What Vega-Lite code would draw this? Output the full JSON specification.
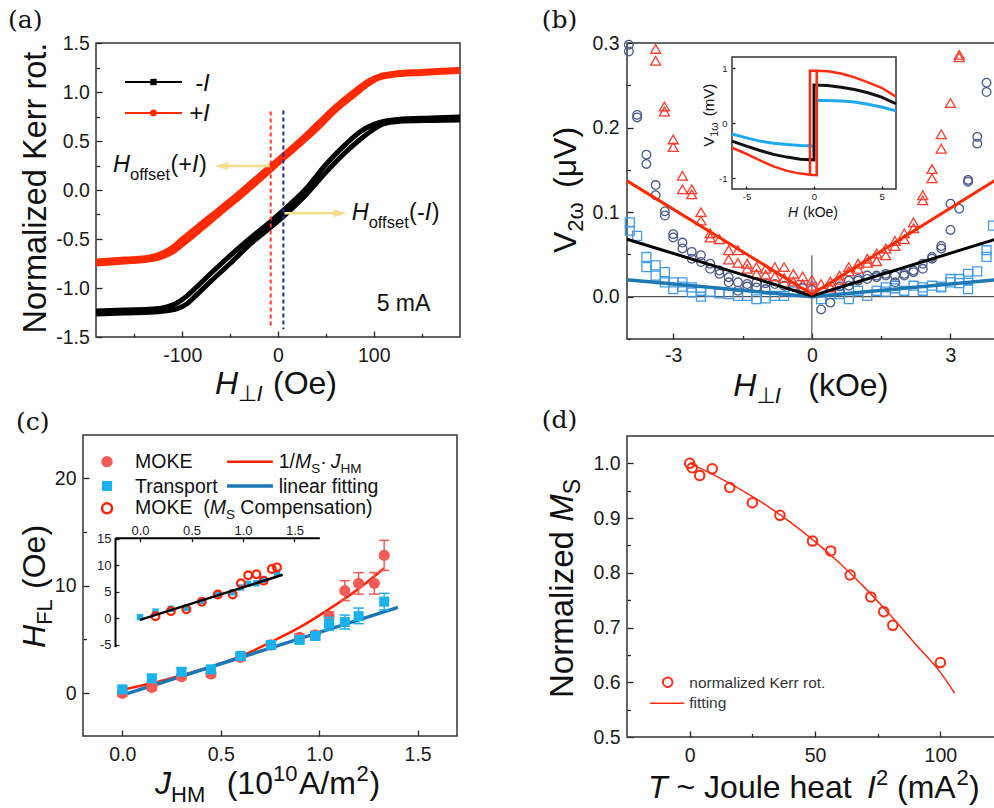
{
"$schema":"https://vega.github.io/schema/vega-lite/v6.json",
"width":994,"height":808,"autosize":{"type":"none"},"padding":0,"background":"white",
"data":{"values":[{}]},
"config":{"view":{"stroke":null},"font":"Liberation Sans",
 "axis":{"grid":false,"domain":false,"labelFont":"Liberation Sans","labelFontSize":19.5,"labelColor":"#1a1a1a","tickColor":"#222222","tickWidth":1.3,"labelFlush":false,"labelOverlap":false,"zindex":1,"domainColor":"#111111"},
 "text":{"color":"#111111"}},
"datasets":{
 "aBlack":[
  {"b":"A","x":-190,"y":-1.235},{"b":"A","x":-160,"y":-1.225},{"b":"A","x":-130,"y":-1.215},{"b":"A","x":-115,"y":-1.19},{"b":"A","x":-105,"y":-1.15},{"b":"A","x":-95,"y":-1.08},{"b":"A","x":-85,"y":-0.99},{"b":"A","x":-70,"y":-0.85},{"b":"A","x":-50,"y":-0.67},{"b":"A","x":-30,"y":-0.5},{"b":"A","x":-10,"y":-0.34},{"b":"A","x":10,"y":-0.17},{"b":"A","x":30,"y":0.02},{"b":"A","x":50,"y":0.26},{"b":"A","x":70,"y":0.46},{"b":"A","x":85,"y":0.59},{"b":"A","x":100,"y":0.67},{"b":"A","x":110,"y":0.7},{"b":"A","x":125,"y":0.72},{"b":"A","x":160,"y":0.735},{"b":"A","x":190,"y":0.745},
  {"b":"B","x":-190,"y":-1.265},{"b":"B","x":-160,"y":-1.255},{"b":"B","x":-130,"y":-1.245},{"b":"B","x":-115,"y":-1.23},{"b":"B","x":-105,"y":-1.21},{"b":"B","x":-95,"y":-1.16},{"b":"B","x":-85,"y":-1.07},{"b":"B","x":-70,"y":-0.93},{"b":"B","x":-50,"y":-0.75},{"b":"B","x":-30,"y":-0.56},{"b":"B","x":-10,"y":-0.4},{"b":"B","x":10,"y":-0.23},{"b":"B","x":30,"y":-0.04},{"b":"B","x":50,"y":0.18},{"b":"B","x":70,"y":0.38},{"b":"B","x":85,"y":0.51},{"b":"B","x":100,"y":0.62},{"b":"B","x":110,"y":0.675},{"b":"B","x":125,"y":0.7},{"b":"B","x":160,"y":0.71},{"b":"B","x":190,"y":0.715}],
 "aRed":[
  {"b":"A","x":-190,"y":-0.725},{"b":"A","x":-160,"y":-0.705},{"b":"A","x":-135,"y":-0.685},{"b":"A","x":-120,"y":-0.64},{"b":"A","x":-110,"y":-0.585},{"b":"A","x":-100,"y":-0.5},{"b":"A","x":-80,"y":-0.34},{"b":"A","x":-60,"y":-0.185},{"b":"A","x":-40,"y":-0.025},{"b":"A","x":-20,"y":0.145},{"b":"A","x":0,"y":0.31},{"b":"A","x":20,"y":0.48},{"b":"A","x":40,"y":0.665},{"b":"A","x":60,"y":0.85},{"b":"A","x":80,"y":1.01},{"b":"A","x":95,"y":1.115},{"b":"A","x":105,"y":1.16},{"b":"A","x":120,"y":1.19},{"b":"A","x":150,"y":1.21},{"b":"A","x":190,"y":1.23},
  {"b":"B","x":-190,"y":-0.755},{"b":"B","x":-160,"y":-0.735},{"b":"B","x":-135,"y":-0.715},{"b":"B","x":-120,"y":-0.68},{"b":"B","x":-110,"y":-0.635},{"b":"B","x":-100,"y":-0.56},{"b":"B","x":-80,"y":-0.4},{"b":"B","x":-60,"y":-0.235},{"b":"B","x":-40,"y":-0.075},{"b":"B","x":-20,"y":0.095},{"b":"B","x":0,"y":0.27},{"b":"B","x":20,"y":0.44},{"b":"B","x":40,"y":0.615},{"b":"B","x":60,"y":0.81},{"b":"B","x":80,"y":0.97},{"b":"B","x":95,"y":1.085},{"b":"B","x":105,"y":1.14},{"b":"B","x":120,"y":1.17},{"b":"B","x":150,"y":1.19},{"b":"B","x":190,"y":1.21}],
 "bTri":[{"x":-3.38,"y":0.293},{"x":-3.38,"y":0.279},{"x":-3.19,"y":0.225},{"x":-3.19,"y":0.219},{"x":-3.0,"y":0.186},{"x":-3.0,"y":0.177},{"x":-2.8,"y":0.143},{"x":-2.8,"y":0.127},{"x":-2.6,"y":0.127},{"x":-2.6,"y":0.121},{"x":-2.4,"y":0.1},{"x":-2.4,"y":0.09},{"x":-2.2,"y":0.075},{"x":-2.2,"y":0.07},{"x":-2.0,"y":0.068},{"x":-1.8,"y":0.055},{"x":-1.8,"y":0.044},{"x":-1.6,"y":0.055},{"x":-1.6,"y":0.04},{"x":-1.4,"y":0.039},{"x":-1.4,"y":0.033},{"x":-1.2,"y":0.035},{"x":-1.2,"y":0.027},{"x":-1.0,"y":0.033},{"x":-1.0,"y":0.026},{"x":-0.8,"y":0.035},{"x":-0.8,"y":0.024},{"x":-0.6,"y":0.035},{"x":-0.6,"y":0.022},{"x":-0.4,"y":0.027},{"x":-0.4,"y":0.018},{"x":-0.2,"y":0.024},{"x":-0.2,"y":0.015},{"x":0.0,"y":0.02},{"x":0.0,"y":0.013},{"x":0.2,"y":0.015},{"x":0.4,"y":0.011},{"x":0.4,"y":0.018},{"x":0.6,"y":0.025},{"x":0.6,"y":0.02},{"x":0.8,"y":0.035},{"x":0.8,"y":0.03},{"x":1.0,"y":0.039},{"x":1.0,"y":0.033},{"x":1.2,"y":0.045},{"x":1.2,"y":0.04},{"x":1.4,"y":0.051},{"x":1.4,"y":0.042},{"x":1.6,"y":0.057},{"x":1.6,"y":0.049},{"x":1.8,"y":0.066},{"x":1.8,"y":0.06},{"x":2.0,"y":0.075},{"x":2.0,"y":0.068},{"x":2.2,"y":0.088},{"x":2.2,"y":0.081},{"x":2.4,"y":0.12},{"x":2.4,"y":0.114},{"x":2.6,"y":0.151},{"x":2.6,"y":0.14},{"x":2.8,"y":0.192},{"x":2.8,"y":0.175},{"x":3.0,"y":0.229},{"x":3.19,"y":0.286},{"x":3.19,"y":0.283}],
 "bCirc":[{"x":-3.96,"y":0.298},{"x":-3.96,"y":0.29},{"x":-3.78,"y":0.215},{"x":-3.78,"y":0.212},{"x":-3.58,"y":0.168},{"x":-3.58,"y":0.157},{"x":-3.38,"y":0.132},{"x":-3.38,"y":0.12},{"x":-3.18,"y":0.101},{"x":-3.18,"y":0.096},{"x":-3.0,"y":0.074},{"x":-3.0,"y":0.07},{"x":-2.8,"y":0.064},{"x":-2.8,"y":0.057},{"x":-2.6,"y":0.053},{"x":-2.6,"y":0.045},{"x":-2.4,"y":0.049},{"x":-2.4,"y":0.041},{"x":-2.2,"y":0.039},{"x":-2.2,"y":0.033},{"x":-2.0,"y":0.031},{"x":-2.0,"y":0.027},{"x":-1.8,"y":0.023},{"x":-1.8,"y":0.017},{"x":-1.6,"y":0.017},{"x":-1.6,"y":0.007},{"x":-1.4,"y":0.015},{"x":-1.4,"y":0.012},{"x":-1.2,"y":0.017},{"x":-1.2,"y":0.011},{"x":-1.0,"y":0.016},{"x":-1.0,"y":0.009},{"x":-0.8,"y":0.015},{"x":-0.6,"y":0.013},{"x":-0.4,"y":0.012},{"x":-0.2,"y":0.011},{"x":0.0,"y":0.008},{"x":0.2,"y":-0.015},{"x":0.4,"y":-0.007},{"x":0.6,"y":0.007},{"x":0.6,"y":0.012},{"x":0.8,"y":0.019},{"x":0.8,"y":0.013},{"x":1.0,"y":0.021},{"x":1.0,"y":0.019},{"x":1.2,"y":0.025},{"x":1.2,"y":0.021},{"x":1.4,"y":0.025},{"x":1.4,"y":0.023},{"x":1.6,"y":0.027},{"x":1.6,"y":0.025},{"x":1.8,"y":0.025},{"x":1.8,"y":0.017},{"x":2.0,"y":0.027},{"x":2.0,"y":0.025},{"x":2.2,"y":0.031},{"x":2.2,"y":0.029},{"x":2.4,"y":0.039},{"x":2.4,"y":0.033},{"x":2.6,"y":0.047},{"x":2.6,"y":0.045},{"x":2.8,"y":0.06},{"x":2.8,"y":0.057},{"x":3.0,"y":0.11},{"x":3.0,"y":0.079},{"x":3.19,"y":0.104},{"x":3.38,"y":0.138},{"x":3.38,"y":0.136},{"x":3.58,"y":0.189},{"x":3.58,"y":0.181},{"x":3.78,"y":0.253},{"x":3.78,"y":0.242}],
 "bSq":[{"x":-3.94,"y":0.088},{"x":-3.94,"y":0.078},{"x":-3.78,"y":0.072},{"x":-3.58,"y":0.047},{"x":-3.58,"y":0.035},{"x":-3.38,"y":0.037},{"x":-3.38,"y":0.025},{"x":-3.18,"y":0.029},{"x":-3.18,"y":0.017},{"x":-3.0,"y":0.017},{"x":-3.0,"y":0.009},{"x":-2.8,"y":0.017},{"x":-2.8,"y":0.012},{"x":-2.6,"y":0.011},{"x":-2.6,"y":0.005},{"x":-2.4,"y":0.007},{"x":-2.4,"y":0.0},{"x":-2.2,"y":0.006},{"x":-2.0,"y":0.004},{"x":-1.8,"y":0.003},{"x":-1.6,"y":0.001},{"x":-1.4,"y":0.001},{"x":-1.2,"y":-0.003},{"x":-1.0,"y":-0.002},{"x":-0.8,"y":0.001},{"x":-0.6,"y":0.001},{"x":-0.4,"y":0.006},{"x":-0.2,"y":0.009},{"x":0.0,"y":0.012},{"x":0.2,"y":-0.003},{"x":0.4,"y":0.003},{"x":0.6,"y":0.003},{"x":0.8,"y":-0.003},{"x":0.8,"y":0.008},{"x":1.0,"y":0.007},{"x":1.2,"y":0.001},{"x":1.4,"y":0.007},{"x":1.6,"y":0.011},{"x":1.6,"y":0.006},{"x":1.8,"y":0.01},{"x":1.8,"y":0.013},{"x":2.0,"y":0.007},{"x":2.2,"y":0.013},{"x":2.4,"y":0.007},{"x":2.4,"y":0.011},{"x":2.6,"y":0.013},{"x":2.8,"y":0.012},{"x":2.8,"y":0.011},{"x":3.0,"y":0.017},{"x":3.0,"y":0.021},{"x":3.19,"y":0.016},{"x":3.19,"y":0.021},{"x":3.38,"y":0.027},{"x":3.38,"y":0.019},{"x":3.38,"y":0.009},{"x":3.58,"y":0.03},{"x":3.78,"y":0.055},{"x":3.78,"y":0.047},{"x":3.92,"y":0.084}],
 "bFitR":[{"x":-4,"y":0.137},{"x":0,"y":0.003},{"x":3.98,"y":0.138}],
 "bFitK":[{"x":-4,"y":0.068},{"x":0,"y":0.001},{"x":3.98,"y":0.068}],
 "bFitB":[{"x":-4,"y":0.02},{"x":0,"y":0.0},{"x":3.98,"y":0.02}],
 "bIns":[
  {"s":"I1","seg":1,"o":1,"x":-6.07,"y":-0.45},{"s":"I1","seg":1,"o":2,"x":-5,"y":-0.56},{"s":"I1","seg":1,"o":3,"x":-4,"y":-0.68},{"s":"I1","seg":1,"o":4,"x":-3,"y":-0.79},{"s":"I1","seg":1,"o":5,"x":-2,"y":-0.87},{"s":"I1","seg":1,"o":6,"x":-1,"y":-0.92},{"s":"I1","seg":1,"o":7,"x":-0.3,"y":-0.94},{"s":"I1","seg":1,"o":8,"x":0.2,"y":-0.95},{"s":"I1","seg":1,"o":9,"x":0.2,"y":0.95},{"s":"I1","seg":1,"o":10,"x":1,"y":0.94},{"s":"I1","seg":1,"o":11,"x":2,"y":0.9},{"s":"I1","seg":1,"o":12,"x":3,"y":0.83},{"s":"I1","seg":1,"o":13,"x":4,"y":0.74},{"s":"I1","seg":1,"o":14,"x":5,"y":0.64},{"s":"I1","seg":1,"o":15,"x":6.07,"y":0.48},
  {"s":"I1","seg":2,"o":1,"x":-0.3,"y":-0.94},{"s":"I1","seg":2,"o":2,"x":-0.3,"y":0.95},{"s":"I1","seg":2,"o":3,"x":0.2,"y":0.95},
  {"s":"I2","seg":1,"o":1,"x":-6.07,"y":-0.33},{"s":"I2","seg":1,"o":2,"x":-5,"y":-0.42},{"s":"I2","seg":1,"o":3,"x":-4,"y":-0.5},{"s":"I2","seg":1,"o":4,"x":-3,"y":-0.57},{"s":"I2","seg":1,"o":5,"x":-2,"y":-0.62},{"s":"I2","seg":1,"o":6,"x":-1,"y":-0.66},{"s":"I2","seg":1,"o":7,"x":0,"y":-0.67},{"s":"I2","seg":1,"o":8,"x":0,"y":0.69},{"s":"I2","seg":1,"o":9,"x":1,"y":0.68},{"s":"I2","seg":1,"o":10,"x":2,"y":0.65},{"s":"I2","seg":1,"o":11,"x":3,"y":0.61},{"s":"I2","seg":1,"o":12,"x":4,"y":0.55},{"s":"I2","seg":1,"o":13,"x":5,"y":0.47},{"s":"I2","seg":1,"o":14,"x":6.07,"y":0.35},
  {"s":"I3","seg":1,"o":1,"x":-6.07,"y":-0.2},{"s":"I3","seg":1,"o":2,"x":-5,"y":-0.27},{"s":"I3","seg":1,"o":3,"x":-4,"y":-0.33},{"s":"I3","seg":1,"o":4,"x":-3,"y":-0.37},{"s":"I3","seg":1,"o":5,"x":-2,"y":-0.39},{"s":"I3","seg":1,"o":6,"x":-1,"y":-0.41},{"s":"I3","seg":1,"o":7,"x":-0.1,"y":-0.42},
  {"s":"I3","seg":2,"o":1,"x":0.2,"y":0.41},{"s":"I3","seg":2,"o":2,"x":1,"y":0.41},{"s":"I3","seg":2,"o":3,"x":2,"y":0.4},{"s":"I3","seg":2,"o":4,"x":3,"y":0.38},{"s":"I3","seg":2,"o":5,"x":4,"y":0.34},{"s":"I3","seg":2,"o":6,"x":5,"y":0.29},{"s":"I3","seg":2,"o":7,"x":6.07,"y":0.22}],
 "cMoke":[{"x":0,"y":-0.03,"lo":-0.3,"hi":0.25},{"x":0.15,"y":0.53,"lo":0.25,"hi":0.8},{"x":0.3,"y":1.52,"lo":1.25,"hi":1.8},{"x":0.45,"y":1.77,"lo":1.5,"hi":2.05},{"x":0.6,"y":3.32,"lo":3.0,"hi":3.65},{"x":0.755,"y":4.47,"lo":4.15,"hi":4.8},{"x":0.9,"y":5.18,"lo":4.85,"hi":5.5},{"x":0.98,"y":5.4,"lo":5.05,"hi":5.75},{"x":1.05,"y":7.16,"lo":6.75,"hi":7.55},{"x":1.13,"y":9.52,"lo":8.6,"hi":10.45},{"x":1.2,"y":10.2,"lo":9.2,"hi":11.2},{"x":1.28,"y":10.2,"lo":9.2,"hi":11.2},{"x":1.33,"y":12.8,"lo":11.4,"hi":14.2}],
 "cTrans":[{"x":0,"y":0.34,"lo":0.05,"hi":0.6},{"x":0.15,"y":1.37,"lo":1.05,"hi":1.7},{"x":0.3,"y":1.98,"lo":1.7,"hi":2.3},{"x":0.45,"y":2.2,"lo":1.9,"hi":2.5},{"x":0.6,"y":3.44,"lo":3.15,"hi":3.75},{"x":0.755,"y":4.47,"lo":4.15,"hi":4.8},{"x":0.9,"y":4.93,"lo":4.6,"hi":5.25},{"x":0.98,"y":5.3,"lo":4.95,"hi":5.65},{"x":1.05,"y":6.45,"lo":5.85,"hi":7.05},{"x":1.13,"y":6.6,"lo":5.95,"hi":7.25},{"x":1.2,"y":7.15,"lo":6.45,"hi":7.9},{"x":1.33,"y":8.5,"lo":7.72,"hi":9.27}],
 "cFitR":[{"x":0,"y":0.3},{"x":0.15,"y":0.9},{"x":0.3,"y":1.65},{"x":0.45,"y":2.45},{"x":0.6,"y":3.4},{"x":0.75,"y":4.7},{"x":0.9,"y":6.1},{"x":1.05,"y":7.8},{"x":1.2,"y":9.7},{"x":1.33,"y":11.6}],
 "cFitB":[{"x":0,"y":-0.2},{"x":1.4,"y":7.96}],
 "cInsR":[{"x":0.15,"y":0.4},{"x":0.3,"y":1.35},{"x":0.45,"y":1.7},{"x":0.6,"y":3.1},{"x":0.755,"y":4.5},{"x":0.9,"y":4.5},{"x":0.98,"y":6.6},{"x":1.05,"y":8.1},{"x":1.13,"y":8.3},{"x":1.2,"y":7.1},{"x":1.28,"y":9.3},{"x":1.33,"y":9.6}],
 "cInsB":[{"x":0,"y":0.2},{"x":0.15,"y":1.26},{"x":0.3,"y":1.8},{"x":0.45,"y":2.0},{"x":0.6,"y":3.3},{"x":0.755,"y":4.5},{"x":0.9,"y":4.9},{"x":0.98,"y":5.8},{"x":1.05,"y":6.5},{"x":1.13,"y":6.6},{"x":1.2,"y":7.3},{"x":1.33,"y":8.6}],
 "cInsL":[{"x":0,"y":-0.3},{"x":1.385,"y":8.2}],
 "dPts":[{"x":0,"y":1.0},{"x":1,"y":0.992},{"x":4,"y":0.978},{"x":9,"y":0.99},{"x":16,"y":0.956},{"x":25,"y":0.928},{"x":36,"y":0.905},{"x":49,"y":0.858},{"x":56.25,"y":0.84},{"x":64,"y":0.796},{"x":72.25,"y":0.756},{"x":77.4,"y":0.729},{"x":81,"y":0.704},{"x":100,"y":0.636}],
 "dFit":[{"x":0,"y":1.0},{"x":10,"y":0.978},{"x":20,"y":0.953},{"x":30,"y":0.925},{"x":40,"y":0.893},{"x":50,"y":0.857},{"x":60,"y":0.817},{"x":70,"y":0.772},{"x":80,"y":0.723},{"x":90,"y":0.67},{"x":100,"y":0.618},{"x":105.7,"y":0.58}]
},
"layer":[
 {"layer":[
  {"mark":{"type":"rect","filled":false,"stroke":"#333333","strokeWidth":1.5},
   "encoding":{
    "x":{"datum":-190,"type":"quantitative","scale":{"domain":[-190,190],"range":[96,460],"nice":false,"zero":false},
     "axis":{"orient":"bottom","offset":-471,"title":null,"values":[-150,-100,-50,0,50,100,150],"format":"d","labelExpr":"datum.value % 100 == 0 ? replace(datum.label, '\u2212', '-') : ''","tickSize":{"condition":{"test":"datum.value % 100 == 0","value":-6},"value":-3.5},"labelPadding":15.6}},
    "x2":{"datum":190},
    "y":{"datum":-1.5,"type":"quantitative","scale":{"domain":[-1.5,1.5],"range":[337,43],"nice":false,"zero":false},
     "axis":{"orient":"left","offset":-96,"title":null,"values":[-1.5,-1.25,-1,-0.75,-0.5,-0.25,0,0.25,0.5,0.75,1,1.25,1.5],"format":".1f","labelExpr":"abs(datum.value*2 - round(datum.value*2)) < 0.001 ? replace(datum.label, '\u2212', '-') : ''","tickSize":{"condition":{"test":"abs(datum.value*2 - round(datum.value*2)) < 0.001","value":-6},"value":-3.5},"labelPadding":12.7}},
    "y2":{"datum":1.5}}},
  {"data":{"name":"aBlack"},"mark":{"type":"line","color":"#000000","strokeWidth":5,"interpolate":"monotone"},"encoding":{"x":{"field":"x","type":"quantitative"},"y":{"field":"y","type":"quantitative"},"detail":{"field":"b","type":"nominal"}}},
  {"data":{"name":"aRed"},"mark":{"type":"line","color":"#ff2a00","strokeWidth":5,"interpolate":"monotone"},"encoding":{"x":{"field":"x","type":"quantitative"},"y":{"field":"y","type":"quantitative"},"detail":{"field":"b","type":"nominal"}}},
  {"mark":{"type":"rule","color":"#ff3b30","strokeWidth":2,"strokeDash":[4,3]},"encoding":{"x":{"datum":-7.6,"type":"quantitative"},"y":{"datum":0.8,"type":"quantitative"},"y2":{"datum":-1.4}}},
  {"mark":{"type":"rule","color":"#1e2b9e","strokeWidth":2,"strokeDash":[4,3]},"encoding":{"x":{"datum":5.6,"type":"quantitative"},"y":{"datum":0.81,"type":"quantitative"},"y2":{"datum":-1.42}}},
  {"mark":{"type":"rule","color":"#f6df8c","strokeWidth":2.5},"encoding":{"x":{"datum":-8.4,"type":"quantitative"},"x2":{"datum":-58},"y":{"datum":0.245,"type":"quantitative"}}},
  {"mark":{"type":"point","shape":"M-1,0L1,-0.6L1,0.6Z","filled":true,"color":"#f6df8c","size":169,"opacity":1},"encoding":{"x":{"datum":-59,"type":"quantitative"},"y":{"datum":0.245,"type":"quantitative"}}},
  {"mark":{"type":"rule","color":"#f6df8c","strokeWidth":2.5},"encoding":{"x":{"datum":6.6,"type":"quantitative"},"x2":{"datum":59},"y":{"datum":-0.238,"type":"quantitative"}}},
  {"mark":{"type":"point","shape":"M1,0L-1,-0.6L-1,0.6Z","filled":true,"color":"#f6df8c","size":169,"opacity":1},"encoding":{"x":{"datum":64.9,"type":"quantitative"},"y":{"datum":-0.238,"type":"quantitative"}}},
  {"mark":{"type":"rule","color":"#000000","strokeWidth":2},"encoding":{"x":{"datum":-159.7,"type":"quantitative"},"x2":{"datum":-100.2},"y":{"datum":1.102,"type":"quantitative"}}},
  {"mark":{"type":"point","shape":"square","filled":true,"color":"#000000","size":40,"opacity":1},"encoding":{"x":{"datum":-130,"type":"quantitative"},"y":{"datum":1.102,"type":"quantitative"}}},
  {"mark":{"type":"rule","color":"#ff2a00","strokeWidth":2},"encoding":{"x":{"datum":-159.7,"type":"quantitative"},"x2":{"datum":-100.2},"y":{"datum":0.786,"type":"quantitative"}}},
  {"mark":{"type":"point","shape":"circle","filled":true,"color":"#ff2a00","size":45,"opacity":1},"encoding":{"x":{"datum":-130,"type":"quantitative"},"y":{"datum":0.786,"type":"quantitative"}}},
  {"mark":{"type":"text","text":"-I","fontSize":24,"fontStyle":"italic","align":"left","baseline":"alphabetic"},"encoding":{"x":{"datum":-86.6,"type":"quantitative"},"y":{"datum":1.015,"type":"quantitative"}}},
  {"mark":{"type":"text","text":"+I","fontSize":24,"fontStyle":"italic","align":"left","baseline":"alphabetic"},"encoding":{"x":{"datum":-92.9,"type":"quantitative"},"y":{"datum":0.699,"type":"quantitative"}}},
  {"mark":{"type":"text","text":"H","fontSize":23.5,"fontStyle":"italic","align":"left","baseline":"alphabetic"},"encoding":{"x":{"datum":-172.2,"type":"quantitative"},"y":{"datum":0.187,"type":"quantitative"}}},
  {"mark":{"type":"text","text":"offset","fontSize":16.5,"align":"left","baseline":"alphabetic","dx":17,"dy":8},"encoding":{"x":{"datum":-172.2,"type":"quantitative"},"y":{"datum":0.187,"type":"quantitative"}}},
  {"mark":{"type":"text","text":"(+","fontSize":23.5,"align":"left","baseline":"alphabetic","dx":57.4},"encoding":{"x":{"datum":-172.2,"type":"quantitative"},"y":{"datum":0.187,"type":"quantitative"}}},
  {"mark":{"type":"text","text":"I","fontSize":23.5,"fontStyle":"italic","align":"left","baseline":"alphabetic","dx":78.9},"encoding":{"x":{"datum":-172.2,"type":"quantitative"},"y":{"datum":0.187,"type":"quantitative"}}},
  {"mark":{"type":"text","text":")","fontSize":23.5,"align":"left","baseline":"alphabetic","dx":86},"encoding":{"x":{"datum":-172.2,"type":"quantitative"},"y":{"datum":0.187,"type":"quantitative"}}},
  {"mark":{"type":"text","text":"H","fontSize":23.5,"fontStyle":"italic","align":"left","baseline":"alphabetic"},"encoding":{"x":{"datum":76.9,"type":"quantitative"},"y":{"datum":-0.306,"type":"quantitative"}}},
  {"mark":{"type":"text","text":"offset","fontSize":16.5,"align":"left","baseline":"alphabetic","dx":17,"dy":8},"encoding":{"x":{"datum":76.9,"type":"quantitative"},"y":{"datum":-0.306,"type":"quantitative"}}},
  {"mark":{"type":"text","text":"(-","fontSize":23.5,"align":"left","baseline":"alphabetic","dx":57.4},"encoding":{"x":{"datum":76.9,"type":"quantitative"},"y":{"datum":-0.306,"type":"quantitative"}}},
  {"mark":{"type":"text","text":"I","fontSize":23.5,"fontStyle":"italic","align":"left","baseline":"alphabetic","dx":73.1},"encoding":{"x":{"datum":76.9,"type":"quantitative"},"y":{"datum":-0.306,"type":"quantitative"}}},
  {"mark":{"type":"text","text":")","fontSize":23.5,"align":"left","baseline":"alphabetic","dx":80.2},"encoding":{"x":{"datum":76.9,"type":"quantitative"},"y":{"datum":-0.306,"type":"quantitative"}}},
  {"mark":{"type":"text","text":"5 mA","fontSize":23,"align":"left","baseline":"alphabetic"},"encoding":{"x":{"datum":103.0,"type":"quantitative"},"y":{"datum":-1.232,"type":"quantitative"}}},
  {"mark":{"type":"text","text":"Normalized Kerr rot.","fontSize":32.5,"angle":270,"align":"center","baseline":"alphabetic"},"encoding":{"x":{"datum":-242.7,"type":"quantitative"},"y":{"datum":0.02,"type":"quantitative"}}},
  {"mark":{"type":"text","text":"H","fontSize":32,"fontStyle":"italic","align":"left","baseline":"alphabetic"},"encoding":{"x":{"datum":-65.77,"type":"quantitative"},"y":{"datum":-2.082,"type":"quantitative"}}},
  {"mark":{"type":"text","text":"\u22a5","font":"DejaVu Sans","fontSize":22,"align":"left","baseline":"alphabetic","dx":23.1,"dy":7},"encoding":{"x":{"datum":-65.77,"type":"quantitative"},"y":{"datum":-2.082,"type":"quantitative"}}},
  {"mark":{"type":"text","text":"I","fontSize":22,"fontStyle":"italic","align":"left","baseline":"alphabetic","dx":41.5,"dy":7},"encoding":{"x":{"datum":-65.77,"type":"quantitative"},"y":{"datum":-2.082,"type":"quantitative"}}},
  {"mark":{"type":"text","text":"(Oe)","fontSize":32,"align":"left","baseline":"alphabetic","dx":58},"encoding":{"x":{"datum":-65.77,"type":"quantitative"},"y":{"datum":-2.082,"type":"quantitative"}}},
  {"mark":{"type":"text","text":"(a)","font":"DejaVu Serif","fontSize":25,"align":"left","baseline":"alphabetic"},"encoding":{"x":{"datum":-281.9,"type":"quantitative"},"y":{"datum":1.649,"type":"quantitative"}}}
 ]},
 {"layer":[
  {"layer":[
   {"mark":{"type":"rect","filled":false,"stroke":"#333333","strokeWidth":1.5},
    "encoding":{
     "x":{"datum":-4,"type":"quantitative","scale":{"domain":[-4,3.92],"range":[627,993],"nice":false,"zero":false},
      "axis":{"orient":"bottom","offset":-469,"title":null,"values":[-3,-1.5,0,1.5,3],"format":"d","labelExpr":"datum.value % 3 == 0 ? replace(datum.label, '\u2212', '-') : ''","tickSize":{"condition":{"test":"datum.value % 3 == 0","value":-6},"value":-3.5},"labelPadding":13.6}},
     "x2":{"datum":3.98},
     "y":{"datum":-0.05,"type":"quantitative","scale":{"domain":[-0.05,0.3],"range":[339,43],"nice":false,"zero":false},
      "axis":{"orient":"left","offset":-627,"title":null,"values":[-0.05,0,0.05,0.1,0.15,0.2,0.25,0.3],"format":".1f","labelExpr":"abs(datum.value*10 - round(datum.value*10)) < 0.001 ? replace(datum.label, '\u2212', '-') : ''","tickSize":{"condition":{"test":"abs(datum.value*10 - round(datum.value*10)) < 0.001","value":-6},"value":-3.5},"labelPadding":14}},
     "y2":{"datum":0.3}}},
   {"mark":{"type":"rule","color":"#555555","strokeWidth":1.2},"encoding":{"x":{"datum":-4,"type":"quantitative"},"x2":{"datum":3.98},"y":{"datum":0,"type":"quantitative"}}},
   {"mark":{"type":"rule","color":"#555555","strokeWidth":1.2},"encoding":{"x":{"datum":0,"type":"quantitative"},"y":{"datum":-0.05,"type":"quantitative"},"y2":{"datum":0.049}}},
   {"data":{"name":"bSq"},"mark":{"type":"point","shape":"square","filled":false,"color":"#3f9cf0","strokeWidth":1.3,"size":80,"opacity":1},"encoding":{"x":{"field":"x","type":"quantitative"},"y":{"field":"y","type":"quantitative"}}},
   {"data":{"name":"bCirc"},"mark":{"type":"point","shape":"circle","filled":false,"color":"#4a5a8c","strokeWidth":1.3,"size":75,"opacity":1},"encoding":{"x":{"field":"x","type":"quantitative"},"y":{"field":"y","type":"quantitative"}}},
   {"data":{"name":"bTri"},"mark":{"type":"point","shape":"triangle-up","filled":false,"color":"#ff3a2a","strokeWidth":1.3,"size":100,"opacity":1},"encoding":{"x":{"field":"x","type":"quantitative"},"y":{"field":"y","type":"quantitative"}}},
   {"data":{"name":"bFitB"},"mark":{"type":"line","color":"#1e78b4","strokeWidth":3.5},"encoding":{"x":{"field":"x","type":"quantitative"},"y":{"field":"y","type":"quantitative"}}},
   {"data":{"name":"bFitK"},"mark":{"type":"line","color":"#000000","strokeWidth":3},"encoding":{"x":{"field":"x","type":"quantitative"},"y":{"field":"y","type":"quantitative"}}},
   {"data":{"name":"bFitR"},"mark":{"type":"line","color":"#ff2a00","strokeWidth":3},"encoding":{"x":{"field":"x","type":"quantitative"},"y":{"field":"y","type":"quantitative"}}},
   {"mark":{"type":"text","text":"V","fontSize":32,"angle":270,"align":"left","baseline":"alphabetic"},"encoding":{"x":{"datum":-5.104,"type":"quantitative"},"y":{"datum":0.0517,"type":"quantitative"}}},
   {"mark":{"type":"text","text":"2\u03c9","fontSize":22,"angle":270,"align":"left","baseline":"alphabetic","dx":21.3,"dy":7},"encoding":{"x":{"datum":-5.104,"type":"quantitative"},"y":{"datum":0.0517,"type":"quantitative"}}},
   {"mark":{"type":"text","text":"(\u03bcV)","fontSize":32,"angle":270,"align":"left","baseline":"alphabetic","dx":65},"encoding":{"x":{"datum":-5.104,"type":"quantitative"},"y":{"datum":0.0517,"type":"quantitative"}}},
   {"mark":{"type":"text","text":"H","fontSize":32,"fontStyle":"italic","align":"left","baseline":"alphabetic"},"encoding":{"x":{"datum":-1.7,"type":"quantitative"},"y":{"datum":-0.1174,"type":"quantitative"}}},
   {"mark":{"type":"text","text":"\u22a5","font":"DejaVu Sans","fontSize":22,"align":"left","baseline":"alphabetic","dx":23.1,"dy":7},"encoding":{"x":{"datum":-1.7,"type":"quantitative"},"y":{"datum":-0.1174,"type":"quantitative"}}},
   {"mark":{"type":"text","text":"I","fontSize":22,"fontStyle":"italic","align":"left","baseline":"alphabetic","dx":41.5,"dy":7},"encoding":{"x":{"datum":-1.7,"type":"quantitative"},"y":{"datum":-0.1174,"type":"quantitative"}}},
   {"mark":{"type":"text","text":"(kOe)","fontSize":32,"align":"left","baseline":"alphabetic","dx":75},"encoding":{"x":{"datum":-1.7,"type":"quantitative"},"y":{"datum":-0.1174,"type":"quantitative"}}},
   {"mark":{"type":"text","text":"(b)","font":"DejaVu Serif","fontSize":25,"align":"left","baseline":"alphabetic"},"encoding":{"x":{"datum":-5.846,"type":"quantitative"},"y":{"datum":0.3173,"type":"quantitative"}}}
  ]},
  {"layer":[
   {"mark":{"type":"rect","filled":false,"stroke":"#333333","strokeWidth":1.5},
    "encoding":{
     "x":{"datum":-6.07,"type":"quantitative","scale":{"domain":[-6.07,6.07],"range":[732,896],"nice":false,"zero":false},
      "axis":{"orient":"bottom","offset":-619,"title":null,"values":[-5,0,5],"format":"d","labelExpr":"replace(datum.label, '\u2212', '-')","tickSize":-3,"labelPadding":5,"labelFontSize":9.5}},
     "x2":{"datum":6.07},
     "y":{"datum":-1.2,"type":"quantitative","scale":{"domain":[-1.2,1.2],"range":[189,57],"nice":false,"zero":false},
      "axis":{"orient":"left","offset":-732,"title":null,"values":[-1,0,1],"format":"d","labelExpr":"replace(datum.label, '\u2212', '-')","tickSize":-3,"labelPadding":8,"labelFontSize":9.5}},
     "y2":{"datum":1.2}}},
   {"data":{"name":"bIns"},"transform":[{"filter":"datum.s == 'I3'"}],"mark":{"type":"line","color":"#1ea9f0","strokeWidth":3},"encoding":{"x":{"field":"x","type":"quantitative"},"y":{"field":"y","type":"quantitative"},"detail":{"field":"seg","type":"nominal"},"order":{"field":"o","type":"quantitative"}}},
   {"data":{"name":"bIns"},"transform":[{"filter":"datum.s == 'I2'"}],"mark":{"type":"line","color":"#111111","strokeWidth":3},"encoding":{"x":{"field":"x","type":"quantitative"},"y":{"field":"y","type":"quantitative"},"detail":{"field":"seg","type":"nominal"},"order":{"field":"o","type":"quantitative"}}},
   {"data":{"name":"bIns"},"transform":[{"filter":"datum.s == 'I1'"}],"mark":{"type":"line","color":"#ff2a12","strokeWidth":2.5},"encoding":{"x":{"field":"x","type":"quantitative"},"y":{"field":"y","type":"quantitative"},"detail":{"field":"seg","type":"nominal"},"order":{"field":"o","type":"quantitative"}}},
   {"mark":{"type":"text","text":"V","fontSize":15,"angle":270,"align":"left","baseline":"alphabetic"},"encoding":{"x":{"datum":-7.4,"type":"quantitative"},"y":{"datum":-0.431,"type":"quantitative"}}},
   {"mark":{"type":"text","text":"1\u03c9","fontSize":10.5,"angle":270,"align":"left","baseline":"alphabetic","dx":10,"dy":3.5},"encoding":{"x":{"datum":-7.4,"type":"quantitative"},"y":{"datum":-0.431,"type":"quantitative"}}},
   {"mark":{"type":"text","text":"(mV)","fontSize":15,"angle":270,"align":"left","baseline":"alphabetic","dx":30.5},"encoding":{"x":{"datum":-7.4,"type":"quantitative"},"y":{"datum":-0.431,"type":"quantitative"}}},
   {"mark":{"type":"text","text":"H","fontSize":14,"fontStyle":"italic","align":"left","baseline":"alphabetic"},"encoding":{"x":{"datum":-1.925,"type":"quantitative"},"y":{"datum":-1.70,"type":"quantitative"}}},
   {"mark":{"type":"text","text":"(kOe)","fontSize":14,"align":"left","baseline":"alphabetic","dx":15},"encoding":{"x":{"datum":-1.925,"type":"quantitative"},"y":{"datum":-1.70,"type":"quantitative"}}}
  ]}
 ],"resolve":{"scale":{"x":"independent","y":"independent"}}},
 {"layer":[
  {"layer":[
   {"mark":{"type":"rect","filled":false,"stroke":"#333333","strokeWidth":1.5},
    "encoding":{
     "x":{"datum":-0.2,"type":"quantitative","scale":{"domain":[-0.2,1.7],"range":[83,457],"nice":false,"zero":false},
      "axis":{"orient":"bottom","offset":-72,"title":null,"values":[0,0.5,1,1.5],"format":".1f","tickSize":-6,"labelPadding":15.3}},
     "x2":{"datum":1.7},
     "y":{"datum":-4,"type":"quantitative","scale":{"domain":[-4,24],"range":[736,435],"nice":false,"zero":false},
      "axis":{"orient":"left","offset":-83,"title":null,"values":[0,5,10,15,20],"format":"d","labelExpr":"datum.value % 10 == 0 ? datum.label : ''","tickSize":{"condition":{"test":"datum.value % 10 == 0","value":-6},"value":-3.5},"labelPadding":13}},
     "y2":{"datum":24}}},
   {"data":{"name":"cFitR"},"mark":{"type":"line","color":"#ff2200","strokeWidth":2.5,"interpolate":"monotone"},"encoding":{"x":{"field":"x","type":"quantitative"},"y":{"field":"y","type":"quantitative"}}},
   {"data":{"name":"cFitB"},"mark":{"type":"line","color":"#1a76b4","strokeWidth":3.5},"encoding":{"x":{"field":"x","type":"quantitative"},"y":{"field":"y","type":"quantitative"}}},
   {"data":{"name":"cMoke"},"mark":{"type":"rule","color":"#f65a57","strokeWidth":1.5},"encoding":{"x":{"field":"x","type":"quantitative"},"y":{"field":"lo","type":"quantitative"},"y2":{"field":"hi"}}},
   {"data":{"name":"cMoke"},"mark":{"type":"point","shape":"stroke","filled":false,"color":"#f65a57","strokeWidth":1.5,"size":110,"opacity":1},"encoding":{"x":{"field":"x","type":"quantitative"},"y":{"field":"lo","type":"quantitative"}}},
   {"data":{"name":"cMoke"},"mark":{"type":"point","shape":"stroke","filled":false,"color":"#f65a57","strokeWidth":1.5,"size":110,"opacity":1},"encoding":{"x":{"field":"x","type":"quantitative"},"y":{"field":"hi","type":"quantitative"}}},
   {"data":{"name":"cMoke"},"mark":{"type":"point","shape":"circle","filled":true,"color":"#f65a57","size":125,"opacity":1},"encoding":{"x":{"field":"x","type":"quantitative"},"y":{"field":"y","type":"quantitative"}}},
   {"data":{"name":"cTrans"},"mark":{"type":"rule","color":"#19b2ee","strokeWidth":1.5},"encoding":{"x":{"field":"x","type":"quantitative"},"y":{"field":"lo","type":"quantitative"},"y2":{"field":"hi"}}},
   {"data":{"name":"cTrans"},"mark":{"type":"point","shape":"stroke","filled":false,"color":"#19b2ee","strokeWidth":1.5,"size":110,"opacity":1},"encoding":{"x":{"field":"x","type":"quantitative"},"y":{"field":"lo","type":"quantitative"}}},
   {"data":{"name":"cTrans"},"mark":{"type":"point","shape":"stroke","filled":false,"color":"#19b2ee","strokeWidth":1.5,"size":110,"opacity":1},"encoding":{"x":{"field":"x","type":"quantitative"},"y":{"field":"hi","type":"quantitative"}}},
   {"data":{"name":"cTrans"},"mark":{"type":"point","shape":"square","filled":true,"color":"#19b2ee","size":100,"opacity":1},"encoding":{"x":{"field":"x","type":"quantitative"},"y":{"field":"y","type":"quantitative"}}},
   {"mark":{"type":"point","shape":"circle","filled":true,"color":"#f65a57","size":130,"opacity":1},"encoding":{"x":{"datum":-0.078,"type":"quantitative"},"y":{"datum":21.52,"type":"quantitative"}}},
   {"mark":{"type":"point","shape":"square","filled":true,"color":"#19b2ee","size":100,"opacity":1},"encoding":{"x":{"datum":-0.078,"type":"quantitative"},"y":{"datum":19.26,"type":"quantitative"}}},
   {"mark":{"type":"point","shape":"circle","filled":false,"color":"#ff2200","strokeWidth":2.5,"size":100,"opacity":1},"encoding":{"x":{"datum":-0.078,"type":"quantitative"},"y":{"datum":17.18,"type":"quantitative"}}},
   {"mark":{"type":"rule","color":"#ff2200","strokeWidth":2.5},"encoding":{"x":{"datum":0.532,"type":"quantitative"},"x2":{"datum":0.765},"y":{"datum":21.52,"type":"quantitative"}}},
   {"mark":{"type":"rule","color":"#1a76b4","strokeWidth":3.5},"encoding":{"x":{"datum":0.532,"type":"quantitative"},"x2":{"datum":0.765},"y":{"datum":19.26,"type":"quantitative"}}},
   {"mark":{"type":"text","text":"MOKE","fontSize":19.5,"align":"left","baseline":"alphabetic"},"encoding":{"x":{"datum":0.064,"type":"quantitative"},"y":{"datum":20.9,"type":"quantitative"}}},
   {"mark":{"type":"text","text":"Transport","fontSize":19.5,"align":"left","baseline":"alphabetic"},"encoding":{"x":{"datum":0.064,"type":"quantitative"},"y":{"datum":18.63,"type":"quantitative"}}},
   {"mark":{"type":"text","text":"MOKE","fontSize":19.5,"align":"left","baseline":"alphabetic"},"encoding":{"x":{"datum":0.064,"type":"quantitative"},"y":{"datum":16.62,"type":"quantitative"}}},
   {"mark":{"type":"text","text":"(","fontSize":19.5,"align":"left","baseline":"alphabetic","dx":68.3},"encoding":{"x":{"datum":0.064,"type":"quantitative"},"y":{"datum":16.62,"type":"quantitative"}}},
   {"mark":{"type":"text","text":"M","fontSize":19.5,"fontStyle":"italic","align":"left","baseline":"alphabetic","dx":74.8},"encoding":{"x":{"datum":0.064,"type":"quantitative"},"y":{"datum":16.62,"type":"quantitative"}}},
   {"mark":{"type":"text","text":"S","fontSize":13.5,"align":"left","baseline":"alphabetic","dx":91,"dy":5},"encoding":{"x":{"datum":0.064,"type":"quantitative"},"y":{"datum":16.62,"type":"quantitative"}}},
   {"mark":{"type":"text","text":"Compensation)","fontSize":19.5,"align":"left","baseline":"alphabetic","dx":105.4},"encoding":{"x":{"datum":0.064,"type":"quantitative"},"y":{"datum":16.62,"type":"quantitative"}}},
   {"mark":{"type":"text","text":"1/","fontSize":19.5,"align":"left","baseline":"alphabetic"},"encoding":{"x":{"datum":0.794,"type":"quantitative"},"y":{"datum":20.9,"type":"quantitative"}}},
   {"mark":{"type":"text","text":"M","fontSize":19.5,"fontStyle":"italic","align":"left","baseline":"alphabetic","dx":16.3},"encoding":{"x":{"datum":0.794,"type":"quantitative"},"y":{"datum":20.9,"type":"quantitative"}}},
   {"mark":{"type":"text","text":"S","fontSize":13.5,"align":"left","baseline":"alphabetic","dx":32.5,"dy":5},"encoding":{"x":{"datum":0.794,"type":"quantitative"},"y":{"datum":20.9,"type":"quantitative"}}},
   {"mark":{"type":"text","text":"\u00b7","fontSize":19.5,"align":"left","baseline":"alphabetic","dx":41.5},"encoding":{"x":{"datum":0.794,"type":"quantitative"},"y":{"datum":20.9,"type":"quantitative"}}},
   {"mark":{"type":"text","text":"J","fontSize":19.5,"fontStyle":"italic","align":"left","baseline":"alphabetic","dx":52},"encoding":{"x":{"datum":0.794,"type":"quantitative"},"y":{"datum":20.9,"type":"quantitative"}}},
   {"mark":{"type":"text","text":"HM","fontSize":13.5,"align":"left","baseline":"alphabetic","dx":61.8,"dy":5},"encoding":{"x":{"datum":0.794,"type":"quantitative"},"y":{"datum":20.9,"type":"quantitative"}}},
   {"mark":{"type":"text","text":"linear fitting","fontSize":19.5,"align":"left","baseline":"alphabetic"},"encoding":{"x":{"datum":0.794,"type":"quantitative"},"y":{"datum":18.63,"type":"quantitative"}}},
   {"mark":{"type":"text","text":"H","fontSize":32,"fontStyle":"italic","angle":270,"align":"left","baseline":"alphabetic"},"encoding":{"x":{"datum":-0.393,"type":"quantitative"},"y":{"datum":4.19,"type":"quantitative"}}},
   {"mark":{"type":"text","text":"FL","fontSize":22,"angle":270,"align":"left","baseline":"alphabetic","dx":23.1,"dy":7},"encoding":{"x":{"datum":-0.393,"type":"quantitative"},"y":{"datum":4.19,"type":"quantitative"}}},
   {"mark":{"type":"text","text":"(Oe)","fontSize":32,"angle":270,"align":"left","baseline":"alphabetic","dx":59},"encoding":{"x":{"datum":-0.393,"type":"quantitative"},"y":{"datum":4.19,"type":"quantitative"}}},
   {"mark":{"type":"text","text":"J","fontSize":32,"fontStyle":"italic","align":"left","baseline":"alphabetic"},"encoding":{"x":{"datum":0.1658,"type":"quantitative"},"y":{"datum":-9.395,"type":"quantitative"}}},
   {"mark":{"type":"text","text":"HM","fontSize":22,"align":"left","baseline":"alphabetic","dx":16,"dy":8},"encoding":{"x":{"datum":0.1658,"type":"quantitative"},"y":{"datum":-9.395,"type":"quantitative"}}},
   {"mark":{"type":"text","text":"(10","fontSize":32,"align":"left","baseline":"alphabetic","dx":71.7},"encoding":{"x":{"datum":0.1658,"type":"quantitative"},"y":{"datum":-9.395,"type":"quantitative"}}},
   {"mark":{"type":"text","text":"10","fontSize":22,"align":"left","baseline":"alphabetic","dx":118,"dy":-13},"encoding":{"x":{"datum":0.1658,"type":"quantitative"},"y":{"datum":-9.395,"type":"quantitative"}}},
   {"mark":{"type":"text","text":"A/m","fontSize":32,"align":"left","baseline":"alphabetic","dx":144},"encoding":{"x":{"datum":0.1658,"type":"quantitative"},"y":{"datum":-9.395,"type":"quantitative"}}},
   {"mark":{"type":"text","text":"2","fontSize":22,"align":"left","baseline":"alphabetic","dx":201.5,"dy":-13},"encoding":{"x":{"datum":0.1658,"type":"quantitative"},"y":{"datum":-9.395,"type":"quantitative"}}},
   {"mark":{"type":"text","text":")","fontSize":32,"align":"left","baseline":"alphabetic","dx":214.5},"encoding":{"x":{"datum":0.1658,"type":"quantitative"},"y":{"datum":-9.395,"type":"quantitative"}}},
   {"mark":{"type":"text","text":"(c)","font":"DejaVu Serif","fontSize":25,"align":"left","baseline":"alphabetic"},"encoding":{"x":{"datum":-0.54,"type":"quantitative"},"y":{"datum":24.47,"type":"quantitative"}}}
  ]},
  {"layer":[
   {"data":{"name":"cInsB"},"mark":{"type":"point","shape":"square","filled":true,"color":"#19b2ee","size":42,"opacity":1},
    "encoding":{
     "x":{"field":"x","type":"quantitative","scale":{"domain":[-0.243,1.741],"range":[115,319.3],"nice":false,"zero":false},
      "axis":{"orient":"top","offset":-537.7,"title":null,"values":[0,0.5,1,1.5],"format":".1f","tickSize":-4,"labelPadding":4,"labelFontSize":13,"domain":true,"domainWidth":2,"domainColor":"#000000"}},
     "y":{"field":"y","type":"quantitative","scale":{"domain":[-5.36,15.2],"range":[646.7,537.7],"nice":false,"zero":false},
      "axis":{"orient":"left","offset":-115,"title":null,"values":[-5,0,5,10,15],"format":"d","labelExpr":"replace(datum.label, '\u2212', '-')","tickSize":-4,"labelPadding":8,"labelFontSize":13,"domain":true,"domainWidth":2,"domainColor":"#000000"}}}},
   {"data":{"name":"cInsR"},"mark":{"type":"point","shape":"circle","filled":false,"color":"#ff2200","strokeWidth":2.2,"size":60,"opacity":1},"encoding":{"x":{"field":"x","type":"quantitative"},"y":{"field":"y","type":"quantitative"}}},
   {"data":{"name":"cInsL"},"mark":{"type":"line","color":"#000000","strokeWidth":2.5},"encoding":{"x":{"field":"x","type":"quantitative"},"y":{"field":"y","type":"quantitative"}}}
  ]}
 ],"resolve":{"scale":{"x":"independent","y":"independent"}}},
 {"layer":[
  {"mark":{"type":"rect","filled":false,"stroke":"#333333","strokeWidth":1.5},
   "encoding":{
    "x":{"datum":-25,"type":"quantitative","scale":{"domain":[-25,121],"range":[627,993],"nice":false,"zero":false},
     "axis":{"orient":"bottom","offset":-71,"title":null,"values":[0,25,50,75,100],"format":"d","labelExpr":"datum.value % 50 == 0 ? datum.label : ''","tickSize":{"condition":{"test":"datum.value % 50 == 0","value":-6},"value":-3.5},"labelPadding":15.3}},
    "x2":{"datum":122},
    "y":{"datum":0.5,"type":"quantitative","scale":{"domain":[0.5,1.05],"range":[737,436],"nice":false,"zero":false},
     "axis":{"orient":"left","offset":-627,"title":null,"values":[0.5,0.55,0.6,0.65,0.7,0.75,0.8,0.85,0.9,0.95,1.0],"format":".1f","labelExpr":"abs(datum.value*10 - round(datum.value*10)) < 0.001 ? datum.label : ''","tickSize":{"condition":{"test":"abs(datum.value*10 - round(datum.value*10)) < 0.001","value":-6},"value":-3.5},"labelPadding":13}},
    "y2":{"datum":1.05}}},
  {"data":{"name":"dFit"},"mark":{"type":"line","color":"#ff2a12","strokeWidth":1.5,"interpolate":"monotone"},"encoding":{"x":{"field":"x","type":"quantitative"},"y":{"field":"y","type":"quantitative"}}},
  {"data":{"name":"dPts"},"mark":{"type":"point","shape":"circle","filled":false,"color":"#ff2a12","strokeWidth":2,"size":90,"opacity":1},"encoding":{"x":{"field":"x","type":"quantitative"},"y":{"field":"y","type":"quantitative"}}},
  {"mark":{"type":"point","shape":"circle","filled":false,"color":"#ff2a12","strokeWidth":2,"size":90,"opacity":1},"encoding":{"x":{"datum":-8.76,"type":"quantitative"},"y":{"datum":0.6,"type":"quantitative"}}},
  {"mark":{"type":"rule","color":"#ff2a12","strokeWidth":1.5},"encoding":{"x":{"datum":-15.82,"type":"quantitative"},"x2":{"datum":-2.14},"y":{"datum":0.5617,"type":"quantitative"}}},
  {"mark":{"type":"text","text":"normalized Kerr rot.","fontSize":15.5,"align":"left","baseline":"alphabetic","color":"#333333"},"encoding":{"x":{"datum":-0.15,"type":"quantitative"},"y":{"datum":0.589,"type":"quantitative"}}},
  {"mark":{"type":"text","text":"fitting","fontSize":15.5,"align":"left","baseline":"alphabetic","color":"#333333"},"encoding":{"x":{"datum":-0.15,"type":"quantitative"},"y":{"datum":0.5525,"type":"quantitative"}}},
  {"mark":{"type":"text","text":"Normalized","fontSize":33,"angle":270,"align":"left","baseline":"alphabetic"},"encoding":{"x":{"datum":-46.54,"type":"quantitative"},"y":{"datum":0.5713,"type":"quantitative"}}},
  {"mark":{"type":"text","text":"M","fontSize":33,"fontStyle":"italic","angle":270,"align":"left","baseline":"alphabetic","dx":176.2},"encoding":{"x":{"datum":-46.54,"type":"quantitative"},"y":{"datum":0.5713,"type":"quantitative"}}},
  {"mark":{"type":"text","text":"S","fontSize":23,"angle":270,"align":"left","baseline":"alphabetic","dx":203.7,"dy":7},"encoding":{"x":{"datum":-46.54,"type":"quantitative"},"y":{"datum":0.5713,"type":"quantitative"}}},
  {"mark":{"type":"text","text":"T","fontSize":32,"fontStyle":"italic","align":"left","baseline":"alphabetic"},"encoding":{"x":{"datum":-16.62,"type":"quantitative"},"y":{"datum":0.3885,"type":"quantitative"}}},
  {"mark":{"type":"text","text":"~ Joule heat","fontSize":32,"align":"left","baseline":"alphabetic","dx":28.5},"encoding":{"x":{"datum":-16.62,"type":"quantitative"},"y":{"datum":0.3885,"type":"quantitative"}}},
  {"mark":{"type":"text","text":"I","fontSize":32,"fontStyle":"italic","align":"left","baseline":"alphabetic","dx":219},"encoding":{"x":{"datum":-16.62,"type":"quantitative"},"y":{"datum":0.3885,"type":"quantitative"}}},
  {"mark":{"type":"text","text":"2","fontSize":22,"align":"left","baseline":"alphabetic","dx":228,"dy":-13},"encoding":{"x":{"datum":-16.62,"type":"quantitative"},"y":{"datum":0.3885,"type":"quantitative"}}},
  {"mark":{"type":"text","text":"(mA","fontSize":32,"align":"left","baseline":"alphabetic","dx":249},"encoding":{"x":{"datum":-16.62,"type":"quantitative"},"y":{"datum":0.3885,"type":"quantitative"}}},
  {"mark":{"type":"text","text":"2","fontSize":22,"align":"left","baseline":"alphabetic","dx":308.5,"dy":-13},"encoding":{"x":{"datum":-16.62,"type":"quantitative"},"y":{"datum":0.3885,"type":"quantitative"}}},
  {"mark":{"type":"text","text":")","fontSize":32,"align":"left","baseline":"alphabetic","dx":321},"encoding":{"x":{"datum":-16.62,"type":"quantitative"},"y":{"datum":0.3885,"type":"quantitative"}}},
  {"mark":{"type":"text","text":"(d)","font":"DejaVu Serif","fontSize":25,"align":"left","baseline":"alphabetic"},"encoding":{"x":{"datum":-59.03,"type":"quantitative"},"y":{"datum":1.0639,"type":"quantitative"}}}
 ]}
],
"resolve":{"scale":{"x":"independent","y":"independent"}}
}
